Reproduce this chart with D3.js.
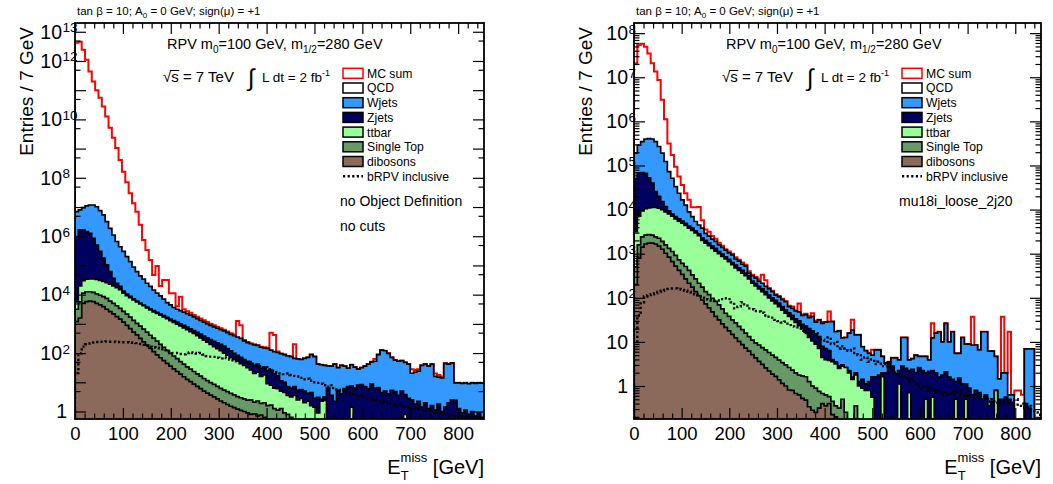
<!DOCTYPE html>
<html>
<head>
<meta charset="utf-8">
<script src="https://cdn.jsdelivr.net/npm/d3@7"></script>
<style>
  body { margin: 0; background: #fff; }
  svg { display: block; }
</style>
</head>
<body>
<svg id="chart" width="1053" height="484"></svg>
<script>
// E_T^miss histograms, 122 bins of 7 GeV.
// values = log10(entries) of each stacked outline (null = empty bin)

// left: no cuts
const L_SUM = [
  12.62, 12.66, 12.38, 12.04, 11.64, 11.30, 11.00, 10.74, 10.44, 10.10,
  9.71, 9.37, 9.02, 8.61, 8.21, 7.85, 7.47, 7.13, 6.84, 6.39,
  5.87, 5.53, 5.19, 4.67, 4.98, 4.30, 4.50, 4.50, 4.05, 4.05,
  3.60, 3.93, 3.50, 3.43, 3.38, 3.30, 3.24, 3.18, 3.12, 3.06,
  3.00, 2.95, 2.90, 2.85, 2.80, 2.74, 2.68, 2.64, 3.10, 2.95,
  2.45, 2.38, 2.34, 2.30, 2.28, 2.22, 2.20, 2.18, 2.70, 2.62,
  2.05, 1.98, 1.95, 1.90, 1.88, 2.30, 1.80, 1.78, 1.82, 1.85,
  1.95, 1.88, 1.62, 1.60, 1.58, 1.56, 1.55, 1.62, 1.50, 1.58,
  1.55, 1.48, 1.60, 1.52, 1.45, 1.50, 1.55, 1.62, 1.70, 1.80,
  1.95, 2.10, 2.08, 1.99, 1.85, 1.76, 1.72, 1.74, 1.68, 1.62,
  1.45, 1.42, 1.45, 1.58, 1.62, 1.55, 1.62, 1.30, 1.25, 1.20,
  1.65, 1.62, 1.66, 0.98, 0.98, 0.96, 0.98, 0.95, 0.98, 0.96,
  0.98, 0.97
];
const L_WJ = [
  6.84, 6.90, 6.98, 7.04, 7.07, 7.07, 7.01, 6.88, 6.73, 6.50,
  6.27, 6.04, 5.82, 5.64, 5.48, 5.30, 5.13, 4.94, 4.79, 4.64,
  4.53, 4.39, 4.28, 4.16, 4.05, 3.96, 3.85, 3.73, 3.65, 3.56,
  3.50, 3.45, 3.40, 3.35, 3.30, 3.24, 3.18, 3.12, 3.06, 3.00,
  2.95, 2.90, 2.85, 2.80, 2.76, 2.70, 2.64, 2.60, 2.55, 2.50,
  2.42, 2.36, 2.32, 2.28, 2.26, 2.20, 2.18, 2.16, 2.10, 2.05,
  2.02, 1.98, 1.95, 1.90, 1.88, 1.82, 1.80, 1.78, 1.82, 1.85,
  1.95, 1.88, 1.62, 1.60, 1.58, 1.56, 1.55, 1.62, 1.50, 1.58,
  1.55, 1.48, 1.60, 1.52, 1.45, 1.50, 1.55, 1.62, 1.70, 1.72,
  1.95, 2.10, 2.08, 1.99, 1.85, 1.76, 1.72, 1.74, 1.68, 1.62,
  1.31, 1.35, 1.38, 1.58, 1.62, 1.55, 1.62, 1.20, 1.18, 1.15,
  1.65, 1.62, 1.66, 0.98, 0.98, 0.96, 0.98, 0.95, 0.98, 0.96,
  0.98, 0.97
];
const L_ZJ = [
  5.99, 6.22, 6.22, 6.16, 6.10, 5.93, 5.70, 5.48, 5.25, 5.02,
  4.79, 4.56, 4.39, 4.28, 4.12, 4.02, 3.94, 3.86, 3.78, 3.71,
  3.64, 3.57, 3.51, 3.45, 3.39, 3.33, 3.28, 3.22, 3.16, 3.11,
  3.06, 3.00, 2.95, 2.89, 2.83, 2.77, 2.71, 2.65, 2.58, 2.52,
  2.46, 2.40, 2.35, 2.30, 2.24, 2.15, 2.08, 1.99, 1.92, 1.85,
  1.78, 1.72, 1.66, 1.58, 1.62, 1.48, 1.52, 1.40, 1.42, 1.30,
  1.22, 1.05, 1.00, 0.85, 0.80, 0.85, 0.72, 0.75, 0.70, 0.62,
  0.65, 0.45, 0.48, 0.42, 0.50, 0.80, 0.55, 0.35, 0.72, 0.60,
  0.78, 0.85, 0.88, 0.80, 0.90, 0.92, 0.85, 0.78, 0.95, 0.80,
  0.82, 0.65, 0.70, 0.60, 0.72, 0.68, 0.55, 0.70, 0.58, 0.45,
  0.40, 0.25, 0.35, 0.15, 0.30, 0.10, 0.20, 0.05, 0.25, 0.00,
  0.15, 0.30, 0.40, 0.38, 0.10, -0.05, 0.05, -0.10, 0.00, -0.15,
  -0.05, -0.20
];
const L_TT = [
  3.75, 4.30, 4.48, 4.53, 4.54, 4.54, 4.52, 4.49, 4.45, 4.41,
  4.36, 4.30, 4.24, 4.17, 4.05, 3.97, 3.90, 3.82, 3.75, 3.68,
  3.62, 3.55, 3.48, 3.41, 3.36, 3.30, 3.24, 3.18, 3.11, 3.05,
  2.99, 2.93, 2.86, 2.80, 2.73, 2.67, 2.60, 2.52, 2.44, 2.37,
  2.30, 2.22, 2.15, 2.08, 2.00, 1.93, 1.85, 1.78, 1.72, 1.64,
  1.58, 1.50, 1.42, 1.30, 1.35, 1.20, 1.25, 0.95, 0.90, 0.80,
  0.78, 0.70, 0.65, 0.55, 0.50, 0.55, 0.40, 0.45, 0.30, 0.35,
  0.20, 0.15, -0.05, 0.35, 0.38, null, null, null, null, null,
  null, null, 0.15, null, null, null, null, null, null, null,
  null, null, null, null, null, null, null, null, -0.10, null,
  null, null, null, null, null, null, null, null, null, null,
  null, null, null, null, null, null, null, null, null, null,
  null, null
];
const L_STOP = [
  3.50, 3.75, 4.05, 4.10, 4.10, 4.08, 4.03, 3.98, 3.93, 3.87,
  3.78, 3.70, 3.62, 3.53, 3.43, 3.33, 3.23, 3.12, 3.02, 2.92,
  2.82, 2.72, 2.61, 2.51, 2.41, 2.30, 2.20, 2.09, 1.99, 1.90,
  1.81, 1.71, 1.62, 1.53, 1.45, 1.37, 1.29, 1.21, 1.13, 1.06,
  0.99, 0.93, 0.86, 0.79, 0.73, 0.68, 0.62, 0.57, 0.51, 0.47,
  0.43, 0.39, 0.40, 0.32, 0.36, 0.28, 0.30, 0.20, 0.22, 0.10,
  0.05, 0.10, -0.05, -0.10, -0.20, null, null, null, null, null,
  null, null, null, null, null, null, null, null, null, null,
  null, null, null, null, null, null, null, null, null, null,
  null, null, null, null, null, null, null, null, null, null,
  null, null, null, null, null, null, null, null, null, null,
  null, null, null, null, null, null, null, null, null, null,
  null, null
];
const L_DIB = [
  3.08, 3.20, 3.70, 3.76, 3.78, 3.76, 3.70, 3.65, 3.59, 3.50,
  3.42, 3.34, 3.25, 3.16, 3.06, 2.95, 2.84, 2.72, 2.62, 2.50,
  2.38, 2.27, 2.16, 2.05, 1.94, 1.84, 1.74, 1.65, 1.55, 1.46,
  1.37, 1.28, 1.19, 1.10, 1.02, 0.94, 0.86, 0.78, 0.70, 0.63,
  0.56, 0.50, 0.43, 0.36, 0.30, 0.24, 0.18, 0.13, 0.08, 0.04,
  0.00, -0.05, -0.10, -0.08, -0.15, -0.12, -0.20, -0.25, null, null,
  null, null, null, null, null, null, null, null, null, null,
  null, null, null, null, null, null, null, null, null, null,
  null, null, null, null, null, null, null, null, null, null,
  null, null, null, null, null, null, null, null, null, null,
  null, null, null, null, null, null, null, null, null, null,
  null, null, null, null, null, null, null, null, null, null,
  null, null
];
const L_BRPV = [
  1.32, 1.99, 2.22, 2.30, 2.33, 2.36, 2.38, 2.39, 2.39, 2.40,
  2.39, 2.39, 2.38, 2.38, 2.37, 2.37, 2.36, 2.35, 2.34, 2.31,
  2.28, 2.25, 2.22, 2.20, 2.18, 2.16, 2.13, 2.10, 2.05, 2.00,
  2.00, 1.97, 1.96, 2.00, 2.02, 2.00, 1.98, 2.00, 1.95, 1.90,
  1.88, 1.87, 1.84, 1.82, 1.85, 1.83, 1.78, 1.75, 1.72, 1.80,
  1.68, 1.65, 1.70, 1.62, 1.60, 1.55, 1.50, 1.52, 1.45, 1.40,
  1.35, 1.30, 1.28, 1.30, 1.25, 1.22, 1.20, 1.15, 1.10, 1.12,
  1.05, 1.00, 0.98, 0.95, 0.90, 0.85, 0.90, 0.80, 0.75, 0.70,
  0.72, 0.65, 0.60, 0.62, 0.55, 0.50, 0.52, 0.45, 0.40, 0.42,
  0.38, 0.35, 0.30, 0.32, 0.28, 0.25, 0.20, 0.22, 0.18, 0.15,
  0.10, 0.12, 0.08, 0.05, 0.00, 0.02, -0.02, -0.05, -0.04, -0.08,
  -0.10, -0.08, -0.12, -0.15, -0.12, -0.18, -0.20, -0.16, -0.22, -0.25,
  -0.22, -0.28
];

// right: mu18i_loose_2j20
const R_SUM = [
  7.32, 7.73, 7.76, 7.69, 7.54, 7.32, 7.13, 6.94, 6.49, 6.05,
  5.50, 5.24, 4.97, 4.75, 4.56, 4.37, 4.22, 4.05, 4.05, 4.06,
  3.76, 3.55, 3.50, 3.40, 3.34, 3.25, 3.18, 3.10, 3.05, 3.00,
  2.92, 2.86, 2.80, 2.75, 2.60, 2.52, 2.47, 2.42, 2.52, 2.40,
  2.22, 2.16, 2.08, 2.04, 1.98, 1.93, 1.82, 1.80, 1.72, 1.87,
  1.62, 1.64, 1.58, 1.65, 1.48, 1.50, 1.45, 1.45, 1.69, 1.46,
  1.23, 1.25, 1.09, 1.10, 1.20, 1.50, 1.16, 1.16, 0.89, 0.80,
  0.74, 0.82, 0.82, 0.82, 0.67, 0.52, 0.52, 0.64, 0.64, 0.59,
  1.10, 1.10, 0.59, 0.62, 0.70, 0.67, 0.67, 0.67, 0.59, 1.42,
  1.20, 1.23, 1.00, 1.42, 1.00, 1.23, 0.74, 0.74, 1.10, 0.95,
  0.95, 1.57, 0.93, 0.82, 1.23, 1.23, 0.79, 0.79, 0.67, 0.16,
  1.57, 0.30, 1.23, -0.20, -0.10, -0.10, -0.20, 0.84, 0.84, 0.84,
  null, null
];
const R_WJ = [
  5.28, 5.46, 5.54, 5.60, 5.61, 5.60, 5.54, 5.43, 5.28, 5.09,
  4.86, 4.71, 4.52, 4.37, 4.22, 4.10, 3.95, 3.84, 3.73, 3.65,
  3.58, 3.46, 3.40, 3.33, 3.28, 3.20, 3.14, 3.08, 3.02, 2.97,
  2.88, 2.83, 2.76, 2.72, 2.56, 2.50, 2.45, 2.38, 2.33, 2.26,
  2.20, 2.14, 2.06, 2.02, 1.96, 1.91, 1.80, 1.76, 1.70, 1.68,
  1.60, 1.62, 1.55, 1.58, 1.45, 1.50, 1.42, 1.45, 1.46, 1.46,
  1.23, 1.25, 1.09, 1.10, 1.20, 1.27, 1.16, 1.16, 0.89, 0.80,
  0.74, 0.70, 0.82, 0.82, 0.67, 0.52, 0.52, 0.64, 0.64, 0.59,
  1.10, 1.10, 0.59, 0.62, 0.70, 0.67, 0.67, 0.67, 0.59, 1.09,
  1.20, 1.23, 1.00, 1.42, 1.00, 1.23, 0.74, 0.74, 1.10, 0.95,
  0.95, 0.93, 0.93, 0.82, 1.23, 1.23, 0.79, 0.79, 0.67, 0.16,
  0.30, 0.30, -0.20, -0.20, null, null, null, 0.84, 0.84, 0.84,
  null, null
];
const R_ZJ = [
  4.70, 4.83, 4.84, 4.82, 4.72, 4.60, 4.41, 4.30, 4.18, 4.07,
  3.97, 3.90, 3.84, 3.79, 3.74, 3.69, 3.63, 3.58, 3.52, 3.45,
  3.36, 3.30, 3.24, 3.18, 3.12, 3.05, 2.99, 2.93, 2.87, 2.80,
  2.74, 2.68, 2.62, 2.56, 2.50, 2.38, 2.33, 2.26, 2.20, 2.14,
  2.06, 2.00, 1.94, 1.88, 1.80, 1.72, 1.66, 1.60, 1.52, 1.48,
  1.40, 1.36, 1.30, 1.25, 1.18, 1.12, 0.90, 0.85, 0.80, 0.60,
  0.55, 0.45, 0.48, 0.30, 0.35, 0.20, 0.30, 0.10, 0.15, 0.05,
  0.10, 0.21, 0.21, 0.25, 0.30, 0.30, 0.55, 0.45, 0.28, 0.35,
  0.45, 0.40, 0.35, 0.38, 0.30, 0.42, 0.35, 0.30, 0.33, 0.35,
  0.30, 0.20, 0.25, 0.32, 0.20, 0.15, 0.10, 0.18, 0.05, 0.05,
  -0.05, -0.20, -0.10, -0.15, -0.30, -0.20, -0.45, -0.35, -0.60, -0.30,
  -0.30, -0.25, -0.30, -0.40, null, null, null, -0.40, -0.50, null,
  null, null
];
const R_TT = [
  3.50, 3.85, 3.97, 4.02, 4.04, 4.05, 4.05, 4.03, 4.00, 3.95,
  3.90, 3.85, 3.79, 3.74, 3.69, 3.64, 3.58, 3.53, 3.47, 3.41,
  3.30, 3.24, 3.18, 3.12, 3.06, 3.00, 2.94, 2.88, 2.82, 2.75,
  2.68, 2.62, 2.56, 2.50, 2.43, 2.33, 2.27, 2.20, 2.14, 2.07,
  2.00, 1.93, 1.87, 1.80, 1.72, 1.65, 1.58, 1.51, 1.44, 1.37,
  1.30, 1.22, 1.10, 1.02, 0.95, 0.85, 0.65, 0.60, 0.58, 0.55,
  0.50, 0.40, 0.45, 0.42, 0.30, 0.15, 0.25, 0.00, -0.05, -0.10,
  -0.10, -0.25, null, null, 0.21, null, null, null, null, 0.05,
  null, null, -0.15, null, null, null, null, -0.30, null, -0.25,
  null, null, null, null, null, null, -0.30, null, null, -0.30,
  null, null, null, null, null, null, null, null, -0.10, null,
  null, null, null, null, null, null, null, null, null, null,
  null, null
];
const R_STOP = [
  2.70, 3.20, 3.38, 3.42, 3.43, 3.42, 3.38, 3.35, 3.28, 3.20,
  3.12, 3.05, 2.96, 2.86, 2.78, 2.71, 2.62, 2.52, 2.43, 2.33,
  2.24, 2.14, 2.07, 1.99, 1.92, 1.84, 1.75, 1.65, 1.58, 1.50,
  1.43, 1.35, 1.28, 1.20, 1.12, 1.04, 0.98, 0.93, 0.87, 0.82,
  0.76, 0.70, 0.65, 0.59, 0.53, 0.48, 0.42, 0.36, 0.30, 0.25,
  0.23, 0.21, 0.10, 0.00, -0.05, -0.12, -0.17, -0.20, -0.24, -0.35,
  -0.45, -0.50, -0.30, -0.60, null, null, -0.45, null, null, null,
  null, null, null, null, null, null, null, null, null, null,
  null, null, null, null, null, null, null, null, null, null,
  null, null, null, null, null, null, null, null, null, null,
  null, null, null, null, null, null, null, null, null, null,
  null, null, null, null, null, null, null, null, null, null,
  null, null
];
const R_DIB = [
  2.30, 2.90, 3.15, 3.22, 3.24, 3.24, 3.22, 3.17, 3.10, 3.01,
  2.92, 2.82, 2.72, 2.62, 2.53, 2.43, 2.33, 2.24, 2.14, 2.05,
  1.95, 1.86, 1.77, 1.68, 1.58, 1.50, 1.41, 1.33, 1.25, 1.17,
  1.09, 1.01, 0.94, 0.86, 0.79, 0.71, 0.64, 0.56, 0.49, 0.41,
  0.34, 0.27, 0.22, 0.14, 0.06, 0.00, -0.09, -0.10, -0.17, -0.20,
  -0.28, -0.32, -0.47, -0.55, -0.60, -0.50, -0.40, -0.45, -0.40, -0.65,
  -0.70, null, null, null, null, null, null, null, null, null,
  null, null, null, null, null, null, null, null, null, null,
  null, null, null, null, null, null, null, null, null, null,
  null, null, null, null, null, null, null, null, null, null,
  null, null, null, null, null, null, null, null, null, null,
  null, null, null, null, null, null, null, null, null, null,
  null, null
];
const R_BRPV = [
  1.00, 1.60, 1.90, 2.03, 2.06, 2.08, 2.10, 2.13, 2.16, 2.18,
  2.20, 2.21, 2.21, 2.20, 2.18, 2.16, 2.14, 2.12, 2.08, 2.03,
  2.00, 1.97, 1.96, 1.94, 1.93, 1.94, 1.97, 1.99, 1.97, 1.90,
  1.76, 1.80, 1.90, 1.85, 1.76, 1.74, 1.70, 1.69, 1.66, 1.60,
  1.57, 1.55, 1.50, 1.47, 1.44, 1.46, 1.38, 1.35, 1.33, 1.30,
  1.25, 1.20, 1.22, 1.15, 1.20, 1.10, 1.05, 1.00, 1.10, 0.95,
  1.00, 0.85, 0.90, 0.85, 0.80, 0.85, 0.75, 0.70, 0.60, 0.65,
  0.55, 0.60, 0.50, 0.55, 0.45, 0.50, 0.40, 0.35, 0.30, 0.25,
  0.20, 0.25, 0.10, 0.15, 0.05, 0.00, -0.05, 0.00, -0.10, -0.05,
  -0.15, -0.10, -0.20, -0.15, -0.20, -0.12, -0.18, -0.10, -0.22, -0.15,
  -0.25, -0.20, -0.28, -0.22, -0.30, -0.25, -0.35, -0.30, -0.38, -0.33,
  -0.40, -0.35, -0.42, -0.38, -0.30, -0.45, -0.40, -0.50, -0.45, -0.55,
  -0.60, -0.65
];

const BIN = 7, XMAX = BIN * L_SUM.length;
const X_TICKS = [0, 100, 200, 300, 400, 500, 600, 700, 800];
const LEGEND_NAMES = ["MC sum", "QCD", "Wjets", "Zjets", "ttbar", "Single Top", "dibosons", "bRPV inclusive"];

const COLORS = { wj: "#3399ff", zj: "#00005f", tt: "#99ff99", stop: "#669966", dib: "#8c6a5b" };
const FONT = '"Liberation Sans", Arial, Helvetica, sans-serif';
const TOP = 23, BOTTOM = 419;
const DOTS = "2.2,2.4";

const panels = [
  { x0: 75, x1: 484, logMin: -0.257, logMax: 13.3,
    yLabels: [0, 2, 4, 6, 8, 10, 12, 13], minorMult: [5], baseEnd: -13, oneEnd: -8,
    sum: L_SUM, wj: L_WJ, zj: L_ZJ, tt: L_TT, stop: L_STOP, dib: L_DIB, brpv: L_BRPV,
    notes: ["no Object Definition", "no cuts"] },
  { x0: 634, x1: 1041, logMin: -0.748, logMax: 8.23,
    yLabels: [0, 1, 2, 3, 4, 5, 6, 7, 8], minorMult: [2, 3, 4, 5, 6, 7, 8, 9], baseEnd: -6, oneEnd: -6,
    sum: R_SUM, wj: R_WJ, zj: R_ZJ, tt: R_TT, stop: R_STOP, dib: R_DIB, brpv: R_BRPV,
    notes: ["mu18i_loose_2j20"] }
];

const svg = d3.select("#chart").attr("font-family", FONT);

// stacked outlines can never go below the layer underneath
function cumulate(layers) {
  const out = [];
  let prev = null;
  layers.forEach(arr => {
    const cur = arr.map((v, i) => {
      const b = prev ? prev[i] : null;
      if (v == null) return b;
      return b == null ? v : Math.max(v, b);
    });
    out.push(cur);
    prev = cur;
  });
  return out;
}

panels.forEach((p, pi) => {
  const x = d3.scaleLinear().domain([0, XMAX]).range([p.x0, p.x1]);
  const y = d3.scaleLog().domain([10 ** p.logMin, 10 ** p.logMax]).range([BOTTOM, TOP]).clamp(true);

  svg.append("clipPath").attr("id", "clip" + pi)
    .append("rect")
    .attr("x", p.x0).attr("y", TOP)
    .attr("width", p.x1 - p.x0).attr("height", BOTTOM - TOP);
  const plot = svg.append("g").attr("clip-path", `url(#clip${pi})`);

  const [dib, stop, tt, zj, wj, sum] = cumulate([p.dib, p.stop, p.tt, p.zj, p.wj, p.sum]);

  const line = d3.line();
  const steps = vals => {
    const pts = [[x(0), BOTTOM + 3]];
    vals.forEach((v, i) => {
      const yy = v == null ? BOTTOM + 3 : y(10 ** v);
      pts.push([x(i * BIN), yy], [x((i + 1) * BIN), yy]);
    });
    pts.push([x(XMAX), BOTTOM + 3]);
    return line(pts);
  };

  // MC sum first, the stack outlines sit on top of it
  plot.append("path")
    .attr("d", steps(sum))
    .attr("fill", "none")
    .attr("stroke", "#ff0000")
    .attr("stroke-width", 2);

  [[wj, COLORS.wj], [zj, COLORS.zj], [tt, COLORS.tt], [stop, COLORS.stop], [dib, COLORS.dib]].forEach(([vals, c]) => {
    plot.append("path")
      .attr("d", steps(vals))
      .attr("fill", c)
      .attr("stroke", "#000")
      .attr("stroke-width", 1.7);
  });

  plot.append("path")
    .attr("d", steps(p.brpv))
    .attr("fill", "none")
    .attr("stroke", "#000")
    .attr("stroke-width", 2.4)
    .attr("stroke-dasharray", DOTS);

  // axes, ticks pointing inwards
  const xMinor = d3.range(0, XMAX + 1, 20).filter(v => v % 100 !== 0);
  const yMajor = d3.range(Math.ceil(p.logMin), Math.floor(p.logMax) + 1).map(k => 10 ** k);
  const yMinor = [];
  d3.range(Math.floor(p.logMin), Math.ceil(p.logMax) + 1).forEach(k => {
    p.minorMult.forEach(m => {
      const v = m * 10 ** k;
      if (v > 10 ** p.logMin && v < 10 ** p.logMax) yMinor.push(v);
    });
  });

  const axes = svg.append("g");
  const tidy = g => {
    g.select(".domain").remove();
    g.selectAll(".tick line").attr("stroke-width", 1.2);
  };

  axes.append("g").attr("transform", `translate(0,${BOTTOM})`)
    .call(d3.axisBottom(x).tickValues(X_TICKS).tickSize(-11).tickSizeOuter(0).tickPadding(8).tickFormat(d3.format("d")))
    .call(tidy)
    .call(g => g.selectAll("text").attr("font-size", 18.5).attr("fill", "#000"))
    .attr("font-family", FONT);
  axes.append("g").attr("transform", `translate(0,${BOTTOM})`)
    .call(d3.axisBottom(x).tickValues(xMinor).tickSize(-5.5).tickSizeOuter(0).tickFormat(""))
    .call(tidy);
  axes.append("g").attr("transform", `translate(0,${TOP})`)
    .call(d3.axisTop(x).tickValues(X_TICKS).tickSize(-11).tickSizeOuter(0).tickFormat(""))
    .call(tidy);
  axes.append("g").attr("transform", `translate(0,${TOP})`)
    .call(d3.axisTop(x).tickValues(xMinor).tickSize(-5.5).tickSizeOuter(0).tickFormat(""))
    .call(tidy);

  axes.append("g").attr("transform", `translate(${p.x0},0)`)
    .call(d3.axisLeft(y).tickValues(yMajor).tickSize(-11).tickSizeOuter(0).tickFormat(""))
    .call(tidy);
  axes.append("g").attr("transform", `translate(${p.x0},0)`)
    .call(d3.axisLeft(y).tickValues(yMinor).tickSize(-5.5).tickSizeOuter(0).tickFormat(""))
    .call(tidy);
  axes.append("g").attr("transform", `translate(${p.x1},0)`)
    .call(d3.axisRight(y).tickValues(yMajor).tickSize(-11).tickSizeOuter(0).tickFormat(""))
    .call(tidy);
  axes.append("g").attr("transform", `translate(${p.x1},0)`)
    .call(d3.axisRight(y).tickValues(yMinor).tickSize(-5.5).tickSizeOuter(0).tickFormat(""))
    .call(tidy);

  svg.append("rect")
    .attr("x", p.x0).attr("y", TOP)
    .attr("width", p.x1 - p.x0).attr("height", BOTTOM - TOP)
    .attr("fill", "none").attr("stroke", "#000").attr("stroke-width", 1.8);

  // y labels 1, 10, 10^k
  p.yLabels.forEach(k => {
    const ty = y(10 ** k);
    if (k <= 1) {
      svg.append("text")
        .attr("x", p.x0 + p.oneEnd).attr("y", ty + 6.8)
        .attr("text-anchor", "end").attr("font-size", 19.5)
        .text(k === 0 ? "1" : "10");
    } else {
      svg.append("text")
        .attr("x", p.x0 + p.baseEnd).attr("y", ty + 6.8)
        .attr("text-anchor", "end").attr("font-size", 19.5)
        .text("10");
      svg.append("text")
        .attr("x", p.x0 + p.baseEnd + 0.5).attr("y", ty + 0.5)
        .attr("font-size", 13.5)
        .text(k);
    }
  });

  // axis titles
  svg.append("text")
    .attr("transform", `translate(${p.x0 - 42},27) rotate(-90)`)
    .attr("text-anchor", "end").attr("font-size", 19)
    .text("Entries / 7 GeV");

  const xt = svg.append("text")
    .attr("x", p.x1).attr("y", 474)
    .attr("text-anchor", "end").attr("font-size", 20);
  xt.append("tspan").text("E");
  xt.append("tspan").attr("font-size", 13).attr("dy", 6).text("T");
  xt.append("tspan").attr("font-size", 13).attr("dx", -8).attr("dy", -18).text("miss");
  xt.append("tspan").attr("dy", 12).text(" [GeV]");

  // header texts
  const title = svg.append("text").attr("x", p.x0 + 2).attr("y", 15).attr("font-size", 11.5);
  title.append("tspan").text("tan β = 10; A");
  title.append("tspan").attr("font-size", 8).attr("dy", 3).text("0");
  title.append("tspan").attr("dy", -3).text(" = 0 GeV; sign(μ) = +1");

  const rpv = svg.append("text").attr("x", p.x0 + 92).attr("y", 49).attr("font-size", 14.5);
  rpv.append("tspan").text("RPV m");
  rpv.append("tspan").attr("font-size", 10).attr("dy", 4).text("0");
  rpv.append("tspan").attr("dy", -4).text("=100 GeV, m");
  rpv.append("tspan").attr("font-size", 10).attr("dy", 4).text("1/2");
  rpv.append("tspan").attr("dy", -4).text("=280 GeV");

  const sq = svg.append("text").attr("x", p.x0 + 88).attr("y", 82).attr("font-size", 15);
  sq.append("tspan").text("√");
  sq.append("tspan").text("s = 7 TeV");
  const sqNode = sq.node();
  const sStart = p.x0 + 88 + sqNode.getSubStringLength(0, 1);
  const sEnd = sStart + sqNode.getSubStringLength(1, 1);
  svg.append("line")
    .attr("x1", sStart - 1).attr("x2", sEnd + 0.5)
    .attr("y1", 70.5).attr("y2", 70.5)
    .attr("stroke", "#000").attr("stroke-width", 1);

  svg.append("text").attr("x", p.x0 + 173).attr("y", 86).attr("font-size", 24).text("∫");
  const lum = svg.append("text").attr("x", p.x0 + 187).attr("y", 82).attr("font-size", 13.5);
  lum.append("tspan").text("L dt = 2 fb");
  lum.append("tspan").attr("font-size", 9).attr("dy", -6).text("-1");

  // legend
  const lx = p.x0 + 268;
  LEGEND_NAMES.forEach((name, i) => {
    const cy = 73.3 + 14.7 * i;
    if (i === 7) {
      svg.append("line")
        .attr("x1", lx).attr("x2", lx + 20).attr("y1", cy).attr("y2", cy)
        .attr("stroke", "#000").attr("stroke-width", 2.4).attr("stroke-dasharray", DOTS);
    } else {
      const fill = [null, null, COLORS.wj, COLORS.zj, COLORS.tt, COLORS.stop, COLORS.dib][i] || "#fff";
      svg.append("rect")
        .attr("x", lx).attr("y", cy - 5).attr("width", 20).attr("height", 10)
        .attr("fill", fill)
        .attr("stroke", i === 0 ? "#ff0000" : "#000")
        .attr("stroke-width", 1.5);
    }
    svg.append("text")
      .attr("x", lx + 24).attr("y", cy + 4.4)
      .attr("font-size", 12.2)
      .text(name);
  });

  p.notes.forEach((t, i) => {
    svg.append("text")
      .attr("x", p.x0 + 265).attr("y", 206 + 25 * i)
      .attr("font-size", 14)
      .text(t);
  });
});
</script>
</body>
</html>
